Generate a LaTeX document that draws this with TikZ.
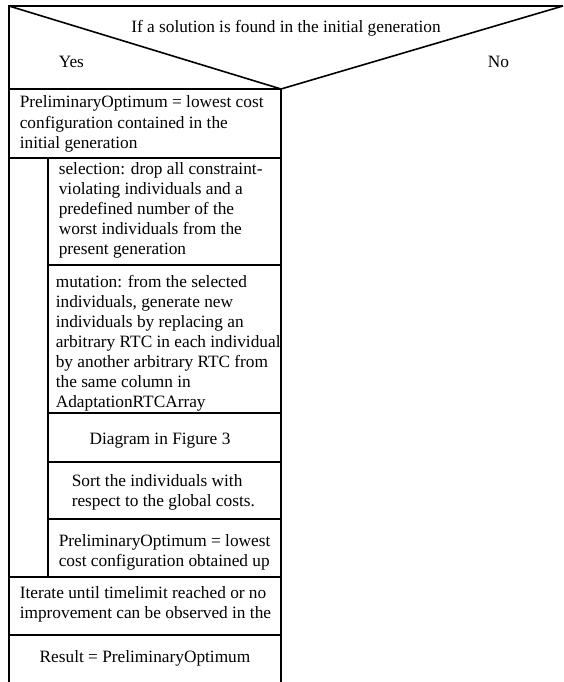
\documentclass[tikz,border=0pt]{standalone}
\usepackage{fontspec}
\setmainfont{Liberation Serif}
\begin{document}
\begin{tikzpicture}[x=1pt,y=-1pt,line width=1.6pt,
  txt/.style={inner sep=0pt,anchor=base west,align=left,font=\fontsize{17.3}{20}\selectfont},
  ctxt/.style={inner sep=0pt,anchor=base,align=center,font=\fontsize{17.3}{20}\selectfont}]

\def\xl{9}
\def\xm{281}
\def\xr{563}
\def\xi{48}

\useasboundingbox (0,0) rectangle (563,682);

% decision
\draw (\xl,682) -- (\xl,6) -- (\xr,6);
\draw (\xl,6) -- (\xm,89) -- (\xr,6);
\draw (\xl,89) -- (\xm,89) -- (\xm,682);

\node[ctxt] (cond) at (286,33) {If a solution is found in the initial generation};
\node[txt] (yes) at (58,68) {Yes};
\node[txt] (no) at (487,68) {No};

% yes branch (base = last line)
\draw (\xl,158) -- (\xm,158);
\node[txt] (prelim) at (19,148) {PreliminaryOptimum = lowest cost\\configuration contained in the\\initial generation};

% loop body
\draw (\xi,158) -- (\xi,577);
\draw (\xi,265) -- (\xm,265);
\draw (\xi,413) -- (\xm,413);
\draw (\xi,462) -- (\xm,462);
\draw (\xi,519) -- (\xm,519);
\draw (\xl,577) -- (\xm,577);
\draw (\xl,635) -- (\xm,635);

\node[txt] (select) at (58,254) {selection: drop all constraint-\\violating individuals and a\\predefined number of the\\worst individuals from the\\present generation};
\node[txt] (mutate) at (55,407) {mutation: from the selected\\individuals, generate new\\individuals by replacing an\\arbitrary RTC in each individual\\by another arbitrary RTC from\\the same column in\\AdaptationRTCArray};
\node[ctxt] (fig) at (160,444) {Diagram in Figure 3};
\node[txt] (sortind) at (71,506) {Sort the individuals with\\respect to the global costs.};
\node[txt] (prelimup) at (58,566) {PreliminaryOptimum = lowest\\cost configuration obtained up};
\node[txt] (iterate) at (19,618) {Iterate until timelimit reached or no\\improvement can be observed in the};
\node[ctxt] (result) at (145,662) {Result = PreliminaryOptimum};

\end{tikzpicture}
\end{document}
